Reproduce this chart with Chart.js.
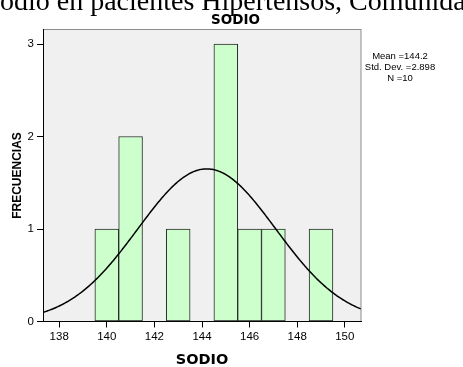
<!DOCTYPE html>
<html>
<head>
<meta charset="utf-8">
<title>Sodio</title>
<script src="https://cdn.jsdelivr.net/npm/chart.js@4/dist/chart.umd.min.js"></script>
<style>
  body { margin: 0; background: #fff; }
  canvas { display: block; }
</style>
</head>
<body>
<canvas id="grafico" width="463" height="367"></canvas>
<script>
// Histograma de sodio (frecuencia por valor) con la curva normal encima
const valoresSodio = [140, 141, 143, 145, 146, 147, 149];
const frecuencias = [1, 2, 1, 3, 1, 1, 1];
const ticksX = [138, 140, 142, 144, 146, 148, 150];
const ticksY = [0, 1, 2, 3];

const media = 144.2;
const desviacion = 2.898;
const totalN = 10;
const alturaCurva = 1.65; // altura del pico de la curva, en frecuencias

const xMin = 137.32;
const xMax = 150.68;
const yMax = 3.157;

// curva normal a partir de la media y la desviación
const puntosCurva = [];
for (let x = xMin; x <= xMax + 1e-9; x += 0.05) {
  const z = (x - media) / desviacion;
  puntosCurva.push({ x: x, y: alturaCurva * Math.exp(-0.5 * z * z) });
}

const fondoPlot = {
  id: 'fondoPlot',
  beforeDraw(chart) {
    const { ctx, chartArea: a } = chart;
    ctx.save();
    ctx.fillStyle = '#f0f0f0';
    ctx.fillRect(a.left, a.top, a.right - a.left, a.bottom - a.top);
    ctx.strokeStyle = '#8c8c8c';
    ctx.lineWidth = 1;
    ctx.strokeRect(Math.round(a.left) + 0.5, Math.round(a.top) - 0.5,
      Math.round(a.right - a.left) - 0.5, Math.round(a.bottom - a.top));
    ctx.restore();
  }
};

const textos = {
  id: 'textos',
  afterDraw(chart) {
    const ctx = chart.ctx;
    ctx.save();
    ctx.fillStyle = '#000';
    ctx.textBaseline = 'alphabetic';

    ctx.font = '28px "Liberation Serif"';
    ctx.textAlign = 'left';
    ctx.fillText('Sodio en pacientes Hipertensos, Comunidad', -15.6, 10);

    ctx.font = 'bold 13.5px "DejaVu Sans"';
    ctx.textAlign = 'center';
    ctx.fillText('SODIO', 235.5, 24);

    ctx.font = '9.5px "Liberation Sans"';
    ctx.fillText('Mean =' + media, 400, 59.3);
    ctx.fillText('Std. Dev. =' + desviacion, 400, 70);
    ctx.fillText('N =' + totalN, 400, 80.5);
    ctx.restore();
  }
};

const grafico = new Chart(document.getElementById('grafico'), {
  type: 'bar',
  data: {
    datasets: [
      {
        type: 'line',
        data: puntosCurva,
        borderColor: '#000',
        borderWidth: 1.5,
        pointRadius: 0,
        tension: 0,
        order: 0
      },
      {
        type: 'bar',
        data: valoresSodio.map((v, i) => ({ x: v, y: frecuencias[i] })),
        backgroundColor: '#ccffcc',
        borderColor: '#2a2a2a',
        borderWidth: 1,
        borderSkipped: false,
        barPercentage: 1,
        categoryPercentage: 1,
        order: 1
      }
    ]
  },
  options: {
    responsive: false,
    animation: false,
    layout: { padding: { top: 29.5, right: 102, bottom: 0, left: 0 } },
    plugins: {
      legend: { display: false },
      tooltip: { enabled: false }
    },
    scales: {
      x: {
        type: 'linear',
        min: xMin,
        max: xMax,
        offset: false,
        afterBuildTicks: s => { s.ticks = ticksX.map(v => ({ value: v })); },
        afterFit: s => { s.height = 45.5; },
        grid: { drawOnChartArea: false, offset: false, tickLength: 6, color: '#000' },
        border: { color: '#000', width: 1 },
        ticks: { padding: 2, color: '#000', maxRotation: 0, font: { family: 'Liberation Sans', size: 11.5 } },
        title: {
          display: true,
          text: 'SODIO',
          color: '#000',
          padding: { top: 0, bottom: 1 },
          font: { family: 'DejaVu Sans', size: 14.5, weight: 'bold', lineHeight: '11px' }
        }
      },
      y: {
        min: 0,
        max: yMax,
        afterBuildTicks: s => { s.ticks = ticksY.map(v => ({ value: v })); },
        afterFit: s => { s.width = 43; },
        grid: { drawOnChartArea: false, tickLength: 6, color: '#000' },
        border: { color: '#000', width: 1 },
        ticks: { padding: 3, color: '#000', font: { family: 'Liberation Sans', size: 11.5 } },
        title: {
          display: true,
          text: 'FRECUENCIAS',
          color: '#000',
          padding: { top: 10, bottom: 0 },
          font: { family: 'Liberation Sans', size: 12, weight: 'bold' }
        }
      }
    }
  },
  plugins: [fondoPlot, textos]
});
</script>
</body>
</html>
